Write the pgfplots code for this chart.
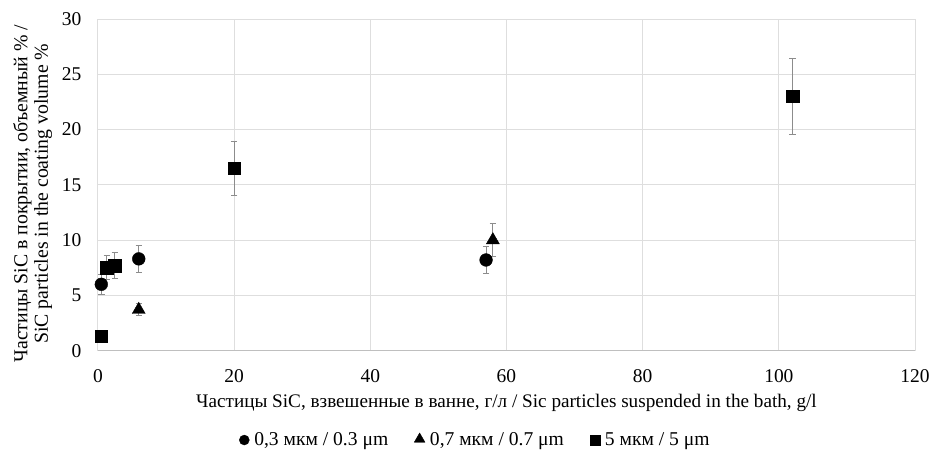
\documentclass[border=0pt]{standalone}
\usepackage{pgfplots}
\pgfplotsset{compat=1.18}
\usepackage{fontspec}
\setmainfont{Liberation Serif}
\begin{document}
\begin{tikzpicture}
\begin{axis}[
  name=ax,
  scale only axis,
  width=818pt, height=332pt,
  xmin=0, xmax=120, ymin=0, ymax=30,
  xtick={0,20,...,120}, ytick={0,5,...,30},
  /pgf/number format/assume math mode=true,
  tick label style={font=\fontsize{19.5}{22}\selectfont},
  label style={font=\fontsize{19.2}{22}\selectfont},
  xlabel={Частицы SiC, взвешенные в ванне, г/л / Sic particles suspended in the bath, g/l},
  xlabel style={yshift=-5pt},
  ylabel={Частицы SiC в покрытии, объемный \% /\\SiC particles in the coating volume \%},
  ylabel style={align=center, font=\fontsize{19.8}{20.5}\selectfont, yshift=3pt, xshift=-9pt},
  grid=major,
  major grid style={draw=black!13, line width=0.9pt},
  axis line style={draw=none},
  axis x line*=bottom,
  x axis line style={draw=black!25, line width=0.9pt},
  major tick length=0pt,
  tick style={draw=none},
  xticklabel style={yshift=-15pt},
  yticklabel style={xshift=-13pt},
  clip=false,
  legend style={at={(0.462,-0.235)}, anchor=north, draw=none, font=\fontsize{19.6}{22}\selectfont,
    /tikz/every odd column/.append style={column sep=3pt},
    /tikz/every even column/.append style={column sep=24pt}},
  legend columns=3,
  legend cell align=left,
  legend image code/.code={\draw[#1, mark size=5pt, only marks] plot coordinates {(0.2cm,0cm)};},
  error bars/error bar style={draw=black!45, line width=0.9pt},
  error bars/error mark options={draw=black!45, line width=0.9pt, mark size=3.2pt, rotate=90},
]
\addplot[only marks, mark=*, mark size=6.4pt, black,
  error bars/.cd, y dir=both, y explicit]
  coordinates {(0.5,6.0) +- (0,0.9) (6,8.3) +- (0,1.2) (57,8.2) +- (0,1.2)};
\addlegendentry{0,3 мкм / 0.3 μm}
\addplot[only marks, mark=triangle*, mark size=7.5pt, black,
  legend image code/.code={\draw[black, fill=black, mark=triangle*, mark size=6.2pt, only marks] plot coordinates {(0.2cm,0.03cm)};},
  error bars/.cd, y dir=both, y explicit]
  coordinates {(6,3.7) +- (0,0.55) (58,10.0) +- (0,1.5)};
\addlegendentry{0,7 мкм / 0.7 μm}
\addplot[only marks, mark=square*, mark size=6.3pt, black,
  error bars/.cd, y dir=both, y explicit]
  coordinates {(0.5,1.3) +- (0,0) (1.3,7.5) +- (0,1.1) (2.5,7.7) +- (0,1.15) (20,16.5) +- (0,2.45) (102,23.0) +- (0,3.45)};
\addlegendentry{5 мкм / 5 μm}
\end{axis}
\path (ax.south west) ++(-98pt,-103pt);
\path (ax.north east) ++(17pt,19pt);
\end{tikzpicture}
\end{document}
